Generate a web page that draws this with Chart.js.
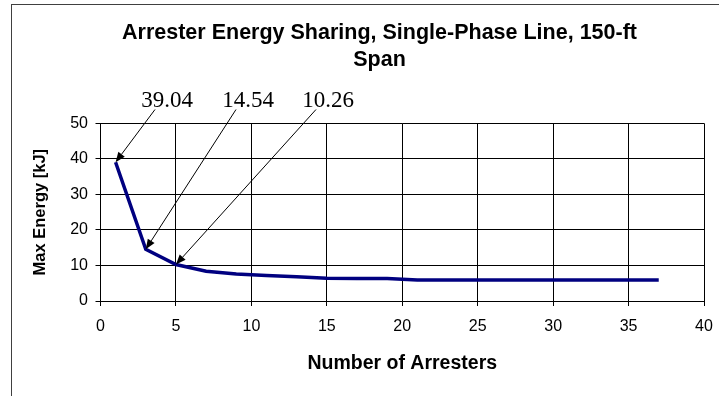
<!DOCTYPE html>
<html>
<head>
<meta charset="utf-8">
<script src="https://cdn.jsdelivr.net/npm/chart.js@4/dist/chart.umd.min.js"></script>
<style>
    html, body { margin: 0; padding: 0; background: #fff; overflow: hidden; }
    #frame {
        position: absolute; left: 11px; top: 4px;
        width: 760px; height: 420px;
        border: 1px solid #404040;
    }
    #chart { position: absolute; left: 0; top: 0; }
</style>
</head>
<body>
<div id="frame"><canvas id="chart" width="735" height="391"></canvas></div>
<script>
// Chart data
const arresters = [1, 3, 5, 7, 9, 11, 13, 15, 17, 19, 21, 23, 25, 27, 29, 31, 33, 35, 37];
const maxEnergy = [39.04, 14.54, 10.26, 8.4, 7.6, 7.2, 6.8, 6.4, 6.3, 6.3, 5.9, 5.9, 5.9, 5.9, 5.9, 5.9, 5.9, 5.9, 5.9];
const annotatedPoints = [0, 1, 2];
const xTicks = { min: 0, max: 40, step: 5 };
const yTicks = { min: 0, max: 50, step: 10 };

const FONT = '"Liberation Sans", Arial, sans-serif';

// Callout labels with arrows pointing at the first three points
const calloutPlugin = {
    id: 'callouts',
    afterDatasetsDraw(chart) {
        const ctx = chart.ctx;
        const meta = chart.getDatasetMeta(0);
        const labelX = [155, 236, 316];
        const labelY = 101.7;
        ctx.save();
        ctx.fillStyle = '#000';
        ctx.strokeStyle = '#000';
        ctx.lineWidth = 1;
        ctx.font = '23px "Liberation Serif", "Times New Roman", serif';
        ctx.textAlign = 'center';
        ctx.textBaseline = 'alphabetic';
        annotatedPoints.forEach((idx, i) => {
            const pt = meta.data[idx];
            ctx.fillText(maxEnergy[idx].toFixed(2), labelX[i], labelY);

            const sx = labelX[i] - 12, sy = 104.5;
            const tx = pt.x, ty = pt.y;
            const ang = Math.atan2(ty - sy, tx - sx);
            const len = 10, half = 4;
            const bx = tx - len * Math.cos(ang), by = ty - len * Math.sin(ang);

            ctx.beginPath();
            ctx.moveTo(sx, sy);
            ctx.lineTo(bx, by);
            ctx.stroke();

            ctx.beginPath();
            ctx.moveTo(tx, ty);
            ctx.lineTo(bx + half * Math.sin(ang), by - half * Math.cos(ang));
            ctx.lineTo(bx - half * Math.sin(ang), by + half * Math.cos(ang));
            ctx.closePath();
            ctx.fill();
        });
        ctx.restore();
    }
};

new Chart(document.getElementById('chart').getContext('2d'), {
    type: 'line',
    data: {
        datasets: [{
            label: 'Max Energy',
            data: arresters.map((x, i) => ({ x: x, y: maxEnergy[i] })),
            borderColor: '#000080',
            borderWidth: 3.5,
            pointRadius: 0,
            tension: 0,
            fill: false
        }]
    },
    options: {
        responsive: false,
        animation: false,
        events: [],
        layout: {
            padding: { left: 0, right: 0, top: 0, bottom: 20.3 }
        },
        plugins: {
            legend: { display: false },
            tooltip: { enabled: false },
            title: {
                display: true,
                text: ['Arrester Energy Sharing, Single-Phase Line, 150-ft', 'Span'],
                color: '#000',
                font: { family: FONT, size: 21.5, weight: 'bold', lineHeight: 1.256 },
                padding: { top: 14.5, bottom: 49.8 }
            }
        },
        scales: {
            x: {
                type: 'linear',
                min: xTicks.min,
                max: xTicks.max,
                afterFit: function(scale) { scale.height = 74.7; },
                ticks: {
                    stepSize: xTicks.step,
                    color: '#000',
                    font: { family: FONT, size: 16 },
                    padding: 11,
                    maxRotation: 0
                },
                grid: { color: '#000', lineWidth: 1, tickLength: 5 },
                border: { color: '#000', width: 1 },
                title: {
                    display: true,
                    text: 'Number of Arresters',
                    color: '#000',
                    font: { family: FONT, size: 19.5, weight: 'bold' },
                    padding: 0
                }
            },
            y: {
                type: 'linear',
                min: yTicks.min,
                max: yTicks.max,
                afterFit: function(scale) { scale.width = 88.5; },
                ticks: {
                    stepSize: yTicks.step,
                    color: '#000',
                    font: { family: FONT, size: 16 },
                    padding: 7.5
                },
                grid: { color: '#000', lineWidth: 1, tickLength: 5 },
                border: { color: '#000', width: 1 },
                title: {
                    display: true,
                    text: 'Max Energy [kJ]',
                    color: '#000',
                    font: { family: FONT, size: 16.5, weight: 'bold' },
                    padding: { top: 18.1, bottom: 0 }
                }
            },
            // empty right-hand spacer so the title stays centred on the whole frame
            spacer: {
                type: 'linear',
                position: 'right',
                display: true,
                afterFit: function(scale) { scale.width = 43; },
                ticks: { display: false },
                grid: { display: false },
                border: { display: false }
            }
        }
    },
    plugins: [calloutPlugin]
});
</script>
</body>
</html>
